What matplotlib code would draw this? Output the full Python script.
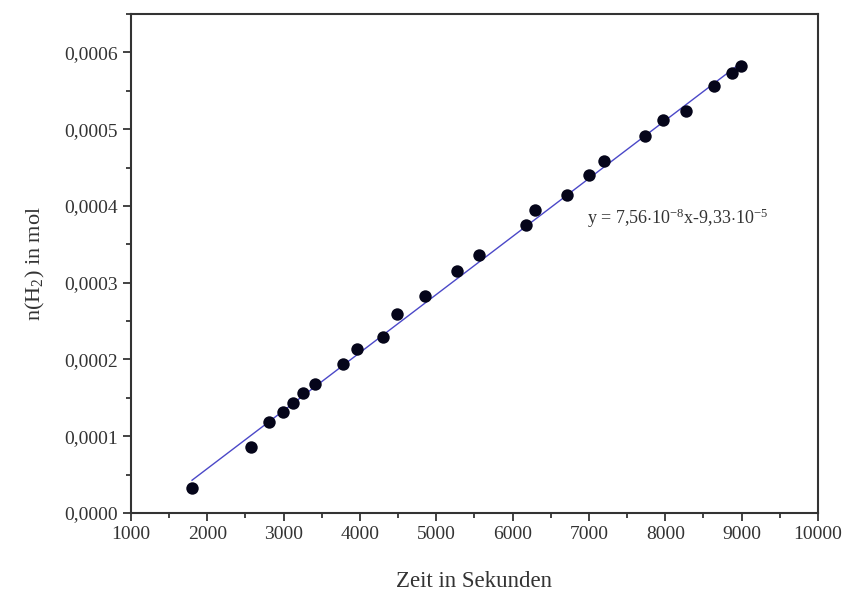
import matplotlib
matplotlib.use('Agg')
import matplotlib.pyplot as plt
from matplotlib.ticker import MultipleLocator, FuncFormatter

plt.rcParams['font.family'] = ['Liberation Serif', 'DejaVu Serif']
plt.rcParams['mathtext.fontset'] = 'custom'
plt.rcParams['mathtext.rm'] = 'Liberation Serif'
plt.rcParams['mathtext.it'] = 'Liberation Serif:italic'

# measured data (time in s, amount of H2 in mol)
zeit = [1796, 2569, 2809, 2996, 3119, 3258, 3411, 3775, 3958, 4307,
        4490, 4853, 5269, 5565, 6173, 6295, 6710, 7007, 7199, 7737,
        7969, 8274, 8632, 8873, 8991]
n_h2 = [0.0000322, 0.0000855, 0.000118, 0.000131, 0.000143, 0.000156,
        0.000168, 0.0001936, 0.000213, 0.000229, 0.000259, 0.000283,
        0.000315, 0.000336, 0.000375, 0.000395, 0.000414, 0.000440,
        0.000459, 0.000491, 0.000512, 0.000524, 0.000556, 0.000573,
        0.000582]

# regression line end points
fit_x = [1800, 9000]
fit_y = [0.0000427, 0.000587]
fit_label = r'y = 7,56$\cdot$10$^{\mathrm{-8}}$x-9,33$\cdot$10$^{\mathrm{-5}}$'

fig = plt.figure(figsize=(8.45, 5.99), dpi=100)
ax = fig.add_axes([0.155, 0.1436, 0.813, 0.833])

ax.plot(fit_x, fit_y, color='#4b48c8', lw=1.0, zorder=1)
ax.scatter(zeit, n_h2, s=80, color='#05051a', linewidths=0, zorder=2)

ax.text(6970, 0.000384, fit_label, fontsize=13, va='center', color='#333333')

ax.set_xlim(1000, 10000)
ax.set_ylim(0, 0.00065)
ax.xaxis.set_major_locator(MultipleLocator(1000))
ax.xaxis.set_minor_locator(MultipleLocator(500))
ax.yaxis.set_major_locator(MultipleLocator(0.0001))
ax.yaxis.set_minor_locator(MultipleLocator(0.00005))
ax.yaxis.set_major_formatter(FuncFormatter(lambda v, p: ('%.4f' % v).replace('.', ',')))

ax.tick_params(which='both', direction='out', top=False, right=False,
               width=1.2, colors='#222222', labelsize=14, labelcolor='#333333')
ax.tick_params(which='major', length=6)
ax.tick_params(which='minor', length=3.5)
for s in ax.spines.values():
    s.set_linewidth(1.5)
    s.set_color('#333333')

ax.set_xlabel('Zeit in Sekunden', fontsize=16.5, color='#333333', labelpad=20)
ax.set_ylabel(r'n(H$_2$) in mol', fontsize=16, color='#333333', labelpad=12)

fig.savefig('out.png', dpi=100)
